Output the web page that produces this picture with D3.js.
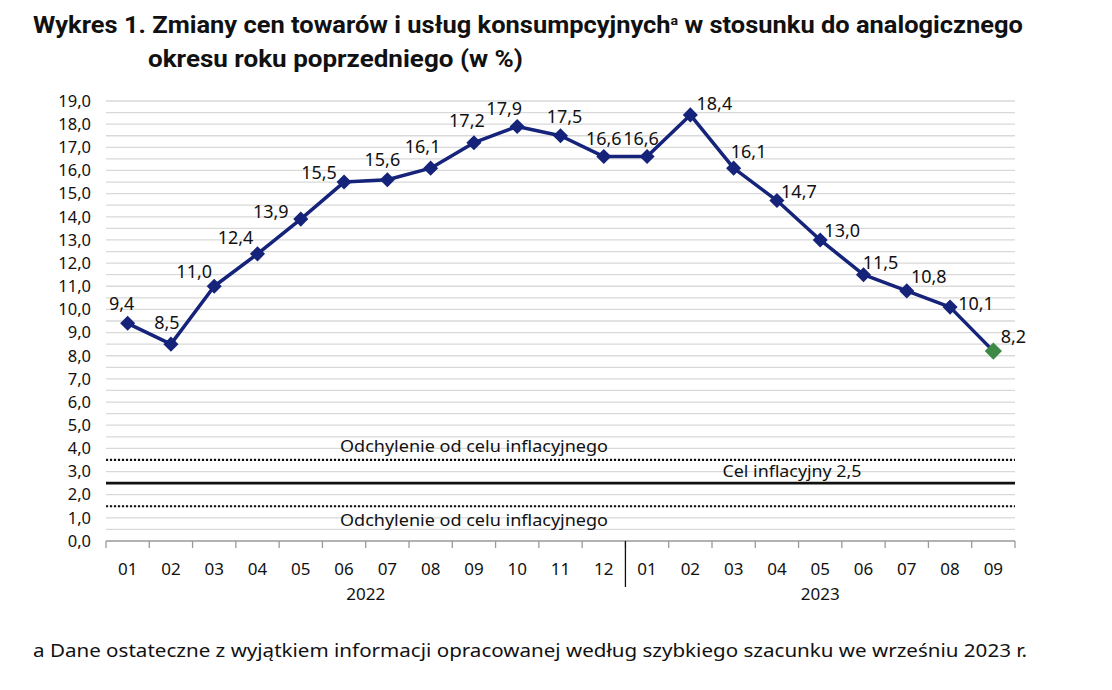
<!DOCTYPE html>
<html><head><meta charset="utf-8">
<script src="https://cdn.jsdelivr.net/npm/d3@7"></script>
<style>body{margin:0;background:#fff}svg{display:block}</style>
</head><body><svg id="c" width="1112" height="690"></svg>
<script>
const months = ["01","02","03","04","05","06","07","08","09","10","11","12","01","02","03","04","05","06","07","08","09"];
const years = ["2022","2023"];
const yearSpan = [12, 9];
const values = [9.4,8.5,11.0,12.4,13.9,15.5,15.6,16.1,17.2,17.9,17.5,16.6,16.6,18.4,16.1,14.7,13.0,11.5,10.8,10.1,8.2];
const yTicks = d3.range(0, 19.01, 1);
const refLines = [3.5, 2.5, 1.5];
const refLabels = ["Odchylenie od celu inflacyjnego","Cel inflacyjny 2,5","Odchylenie od celu inflacyjnego"];
// label placement offsets (layout only)
const labelOffsets = [[-6,-13],[-4,-15],[-20,-8],[-22,-10],[-30,-1],[-25,-3],[-5,-14],[-8,-15],[-7,-16],[-13,-11],[4,-13],[0,-12],[-6,-12],[24,-5],[15,-10],[22,-3],[22,-3],[17,-6],[22,-8],[26,3],[20,-8]];

const svg = d3.select("#c");
const L=106, R=1015, T=101, B=541;
const x = d3.scaleBand().domain(d3.range(months.length)).range([L,R]).padding(0);
const y = d3.scaleLinear().domain([0,19]).range([B,T]);
const fmt = v => d3.format(".1f")(v).replace(".",",");
const font = "'Noto Sans', sans-serif";

// title
const title = svg.append("g").attr("font-family","Roboto, sans-serif").attr("font-weight","bold").attr("fill","#111");
const t1 = title.append("text").attr("x",33).attr("y",33).attr("font-size",23.5);
t1.append("tspan").text("Wykres 1. Zmiany cen towarów i usług konsumpcyjnych");
t1.append("tspan").attr("font-size",13).attr("dy",-8).text("a");
t1.append("tspan").attr("dy",8).text(" w stosunku do analogicznego");
t1.attr("textLength",990).attr("lengthAdjust","spacingAndGlyphs");
title.append("text").attr("x",148).attr("y",67).attr("font-size",23.5)
  .attr("textLength",375).attr("lengthAdjust","spacingAndGlyphs")
  .text("okresu roku poprzedniego (w %)");

// gridlines every 0.5
const grid = d3.range(0.5, 19.01, 0.5);
svg.append("g").selectAll("line").data(grid).join("line")
  .attr("x1",L).attr("x2",R).attr("y1",d=>y(d)).attr("y2",d=>y(d))
  .attr("stroke","#d9d9d9").attr("stroke-width",1.3);

// y axis labels
const ya = svg.append("g").attr("transform",`translate(${L},0)`)
  .call(d3.axisLeft(y).tickValues(yTicks).tickFormat(fmt).tickSize(0).tickPadding(15));
ya.select(".domain").remove();
ya.selectAll("text").attr("font-family",font).attr("font-size",16.5).attr("fill","#111");

// x axis
svg.append("line").attr("x1",L).attr("x2",R).attr("y1",B).attr("y2",B).attr("stroke","#999").attr("stroke-width",1.3);
const bounds = d3.range(months.length+1).map(i => L + i*x.bandwidth());
svg.append("g").selectAll("line").data(bounds).join("line")
  .attr("x1",d=>d).attr("x2",d=>d).attr("y1",B).attr("y2",B+7).attr("stroke","#999").attr("stroke-width",1.3);
svg.append("g").selectAll("text").data(months).join("text")
  .attr("x",(d,i)=>x(i)+x.bandwidth()/2).attr("y",575).attr("text-anchor","middle")
  .attr("font-family",font).attr("font-size",17).attr("fill","#111").text(d=>d);
// year labels and separator
let start=0;
years.forEach((yr,k)=>{
  const s = start, e = start+yearSpan[k];
  svg.append("text").attr("x",(x(s)+x(e-1)+x.bandwidth())/2).attr("y",600).attr("text-anchor","middle")
    .attr("font-family",font).attr("font-size",17).attr("fill","#111").text(yr);
  if (k>0) svg.append("line").attr("x1",x(s)).attr("x2",x(s)).attr("y1",B).attr("y2",587).attr("stroke","#111").attr("stroke-width",1.3);
  start = e;
});

// reference lines
refLines.forEach((v,i)=>{
  svg.append("line").attr("x1",L).attr("x2",R).attr("y1",y(v)).attr("y2",y(v))
    .attr("stroke","#111").attr("stroke-width", i===1?2.6:2.2)
    .attr("stroke-dasharray", i===1?null:"2,2");
});
const refLab = svg.append("g").attr("font-family",font).attr("font-size",16.5).attr("fill","#111").attr("text-anchor","middle");
refLab.append("text").attr("x",474).attr("y",y(refLines[0])-8).attr("textLength",268).attr("lengthAdjust","spacingAndGlyphs").text(refLabels[0]);
refLab.append("text").attr("x",792).attr("y",y(refLines[1])-6).attr("textLength",139).attr("lengthAdjust","spacingAndGlyphs").text(refLabels[1]);
refLab.append("text").attr("x",474).attr("y",y(refLines[2])+20).attr("textLength",268).attr("lengthAdjust","spacingAndGlyphs").text(refLabels[2]);

// line
const cx = i => x(i)+x.bandwidth()/2;
svg.append("path").datum(values)
  .attr("d", d3.line().x((d,i)=>cx(i)).y(d=>y(d)))
  .attr("fill","none").attr("stroke","#15237a").attr("stroke-width",3.5).attr("stroke-linejoin","round");
svg.append("g").selectAll("path").data(values).join("path")
  .attr("d",(d,i)=>d3.symbol().type(d3.symbolDiamond2).size(i===values.length-1?190:145)())
  .attr("transform",(d,i)=>`translate(${cx(i)},${y(d)})`)
  .attr("fill",(d,i)=> i===values.length-1 ? "#3c8a45" : "#15237a");

// data labels
svg.append("g").selectAll("text").data(values).join("text")
  .attr("x",(d,i)=>cx(i)+labelOffsets[i][0]).attr("y",(d,i)=>y(d)+labelOffsets[i][1])
  .attr("text-anchor","middle")
  .attr("font-family",font).attr("font-size",18).attr("fill","#111").text(fmt);

// footnote
svg.append("text").attr("x",33).attr("y",657).attr("font-family",font).attr("font-size",18).attr("fill","#111")
  .attr("textLength",994).attr("lengthAdjust","spacingAndGlyphs")
  .text("a Dane ostateczne z wyjątkiem informacji opracowanej według szybkiego szacunku we wrześniu 2023 r.");
</script></body></html>
